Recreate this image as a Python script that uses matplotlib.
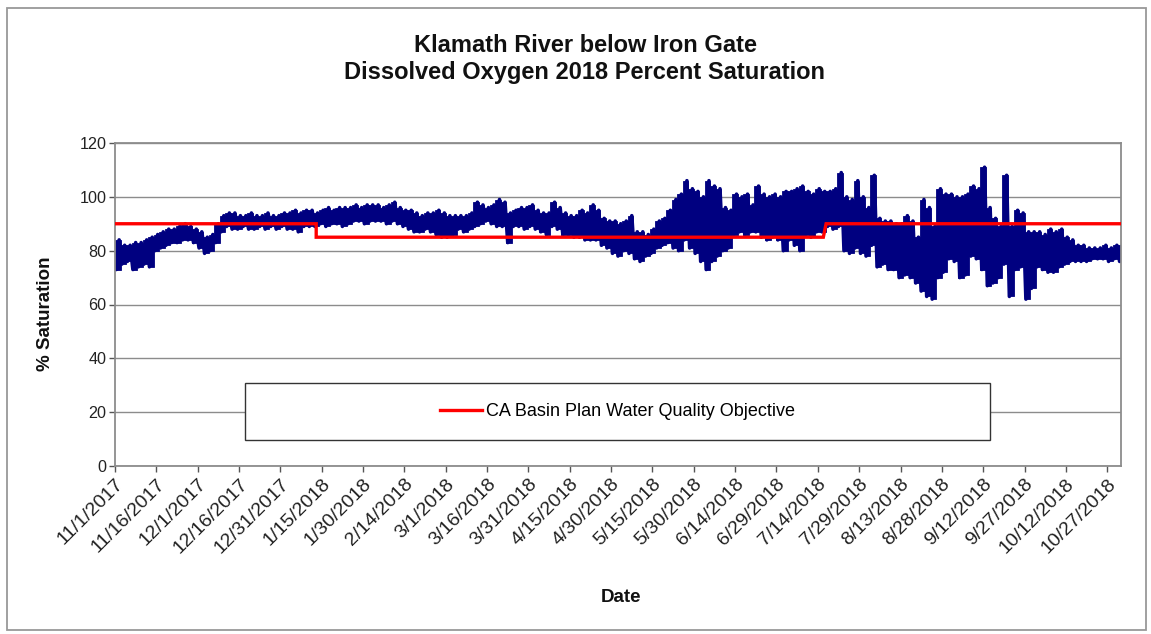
import matplotlib
matplotlib.use("Agg")
import matplotlib.pyplot as plt
import numpy as np
import pandas as pd
from matplotlib.patches import Rectangle
from matplotlib.lines import Line2D

plt.rcParams["font.family"] = ["Liberation Sans", "DejaVu Sans"]

# Two-day envelope of the continuous DO record (% saturation), starting 11/1/2017
do_high = [
    84, 82, 82, 83, 83, 84, 85, 86, 87, 88, 88, 89, 90, 89, 88, 87, 85, 86, 90, 93,
    94, 94, 93, 93, 94, 93, 93, 94, 93, 93, 94, 94, 95, 94, 95, 95, 94, 95, 96, 95,
    96, 96, 96, 97, 96, 97, 97, 97, 96, 97, 98, 96, 95, 95, 94, 93, 94, 94, 95, 94,
    93, 93, 93, 93, 94, 98, 97, 96, 97, 99, 98, 94, 95, 96, 96, 97, 95, 94, 94, 98,
    96, 94, 93, 93, 95, 94, 97, 95, 92, 91, 91, 90, 91, 93, 87, 87, 86, 88, 91, 92,
    95, 99, 101, 106, 103, 102, 100, 106, 104, 103, 96, 95, 101, 100, 101, 97, 104, 101, 100, 101,
    100, 102, 102, 103, 104, 102, 101, 103, 102, 102, 103, 109, 100, 99, 106, 100, 96, 108, 92, 91,
    91, 90, 90, 93, 91, 85, 99, 96, 89, 103, 101, 101, 100, 100, 101, 104, 103, 111, 96, 92,
    89, 108, 89, 95, 94, 87, 87, 87, 86, 88, 87, 88, 85, 84, 82, 82, 81, 81, 81, 82,
    81, 82, 82,
]
do_low = [
    73, 75, 76, 73, 74, 75, 74, 80, 81, 82, 83, 83, 84, 84, 83, 81, 79, 80, 83, 87,
    89, 88, 88, 89, 88, 88, 89, 88, 89, 88, 89, 88, 88, 87, 89, 89, 89, 90, 89, 90,
    90, 89, 90, 91, 91, 90, 91, 91, 91, 90, 91, 90, 89, 88, 87, 87, 88, 87, 86, 85,
    85, 86, 88, 87, 88, 89, 90, 91, 90, 89, 89, 83, 89, 89, 88, 89, 88, 87, 86, 89,
    88, 86, 86, 85, 85, 84, 84, 84, 82, 81, 79, 78, 80, 79, 77, 76, 78, 79, 81, 82,
    83, 81, 80, 84, 81, 79, 76, 73, 76, 78, 80, 81, 86, 87, 86, 87, 87, 85, 84, 85,
    84, 80, 84, 82, 80, 86, 85, 87, 87, 89, 88, 89, 80, 79, 81, 79, 78, 82, 74, 75,
    73, 73, 70, 71, 70, 68, 65, 63, 62, 70, 72, 77, 76, 70, 71, 78, 77, 73, 67, 68,
    70, 75, 63, 73, 74, 62, 66, 74, 73, 72, 72, 74, 75, 76, 76, 76, 76, 77, 77, 77,
    76, 77, 76,
]

# Basin Plan dissolved-oxygen objective (% saturation)
objective_dates = ["2017-11-01", "2018-01-13", "2018-01-13", "2018-07-16", "2018-07-17", "2018-11-01"]
objective_values = [90, 90, 85, 85, 90, 90]

tick_labels = [
    "11/1/2017", "11/16/2017", "12/1/2017", "12/16/2017", "12/31/2017", "1/15/2018",
    "1/30/2018", "2/14/2018", "3/1/2018", "3/16/2018", "3/31/2018", "4/15/2018",
    "4/30/2018", "5/15/2018", "5/30/2018", "6/14/2018", "6/29/2018", "7/14/2018",
    "7/29/2018", "8/13/2018", "8/28/2018", "9/12/2018", "9/27/2018", "10/12/2018",
    "10/27/2018",
]

NAVY = "#000080"
GRID = "#8c8c8c"

bin_dates = pd.date_range("2017-11-01", periods=len(do_high), freq="2D")
high = np.array(do_high, dtype=float)
low = np.array(do_low, dtype=float)

fig = plt.figure(figsize=(11.51, 6.34), dpi=100)
W, H = 1151, 634
ax = fig.add_axes([115 / W, 1 - 466 / H, 1006 / W, 323 / H])

# solid envelope of each two-day block
ax.bar(bin_dates, high - low, bottom=low, width=2, align="edge",
       color=NAVY, edgecolor=NAVY, linewidth=0.6, zorder=2)
# thick trace swinging between each block's low and high
trace_t = np.empty(2 * len(high), dtype="datetime64[ns]")
trace_v = np.empty(2 * len(high))
trace_t[0::2] = (bin_dates + pd.Timedelta(hours=12)).values
trace_t[1::2] = (bin_dates + pd.Timedelta(hours=36)).values
trace_v[0::2] = low
trace_v[1::2] = high
ax.plot(trace_t, trace_v, color=NAVY, lw=2.6, solid_capstyle="round",
        solid_joinstyle="round", zorder=2)

ax.plot(pd.to_datetime(objective_dates), objective_values, color="#ff0000",
        lw=2.4, zorder=3, solid_joinstyle="miter")

ax.set_xlim(pd.Timestamp("2017-11-01"), pd.Timestamp("2018-11-01"))
ax.set_ylim(0, 120)
ax.set_yticks(range(0, 121, 20))
ax.yaxis.grid(True, color=GRID, lw=1.0)
ax.set_axisbelow(True)
for sp in ax.spines.values():
    sp.set_color(GRID)
    sp.set_linewidth(1.3)

ax.set_xticks(pd.to_datetime(tick_labels, format="%m/%d/%Y"))
ax.set_xticklabels(tick_labels, rotation=45, ha="right", rotation_mode="anchor")
ax.tick_params(axis="both", direction="out", length=4, width=1, color="#555555",
               labelcolor="#222222", pad=3)
ax.tick_params(axis="y", labelsize=11.6, pad=2)
ax.tick_params(axis="x", labelsize=14)

# legend panel inside the plot area
ax.add_patch(Rectangle((0.129, 0.08), 0.741, 0.177, transform=ax.transAxes,
                       facecolor="white", edgecolor="#333333", lw=1.0, zorder=4))
leg = ax.legend(handles=[Line2D([], [], color="#ff0000", lw=2.4)],
                labels=["CA Basin Plan Water Quality Objective"],
                loc="center", bbox_to_anchor=(0.129, 0.08, 0.741, 0.177),
                frameon=False, fontsize=13, handlelength=2.3, handletextpad=0.25)
leg.set_zorder(5)

fig.text(585 / W, 1 - 45 / H, "Klamath River below Iron Gate", ha="center", va="center",
         fontsize=17, fontweight="bold", color="#111111")
fig.text(585 / W, 1 - 73 / H, "Dissolved Oxygen 2018 Percent Saturation", ha="center",
         va="center", fontsize=17, fontweight="bold", color="#111111")
fig.text(45 / W, 1 - 314 / H, "% Saturation", rotation=90, ha="center", va="center",
         fontsize=13.5, fontweight="bold", color="#111111")
fig.text(621 / W, 1 - 597 / H, "Date", ha="center", va="center",
         fontsize=13.5, fontweight="bold", color="#111111")

# outer chart frame
fig.patches.append(Rectangle((7 / W, 4 / H), (1146 - 7) / W, (626 - 4) / H,
                             transform=fig.transFigure, fill=False,
                             edgecolor="#999999", lw=1.3))

fig.savefig("out.png", dpi=100)
